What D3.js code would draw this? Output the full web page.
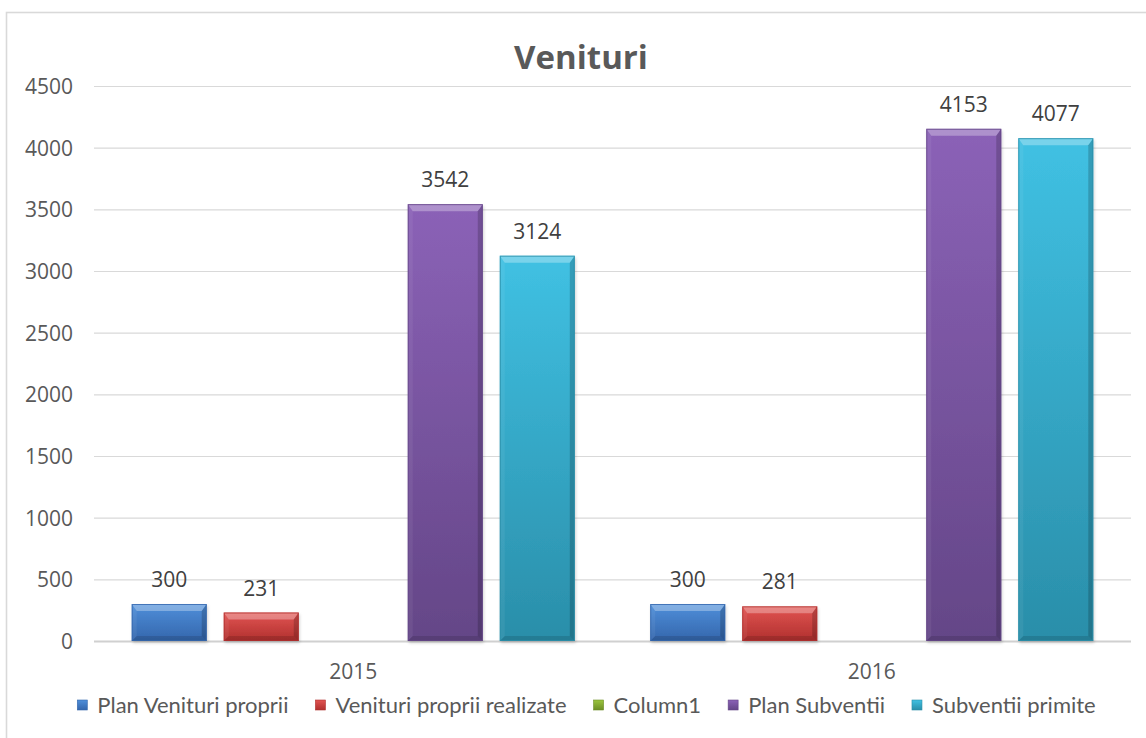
<!DOCTYPE html>
<html>
<head>
<meta charset="utf-8">
<script src="https://cdn.jsdelivr.net/npm/d3@7"></script>
<style>
  html, body { margin: 0; padding: 0; background: #fff; }
  svg { display: block; }
</style>
</head>
<body>
<svg id="chart" width="1146" height="738"></svg>
<script>
// ---- data ----
const categories = ["2015", "2016"];
const seriesNames = ["Plan Venituri proprii", "Venituri proprii realizate", "Column1", "Plan Subventii", "Subventii primite"];
const planVenituriProprii = [300, 300];
const venituriPropriiRealizate = [231, 281];
const column1 = [null, null];
const planSubventii = [3542, 4153];
const subventiiPrimite = [3124, 4077];
const yTicks = [0, 500, 1000, 1500, 2000, 2500, 3000, 3500, 4000, 4500];
const title = "Venituri";

const seriesValues = [planVenituriProprii, venituriPropriiRealizate, column1, planSubventii, subventiiPrimite];
const seriesColors = [
  { top: "#4f8fda", bot: "#3466ac" },
  { top: "#e25452", bot: "#b0302e" },
  { top: "#9bc53d", bot: "#6d8e26" },
  { top: "#8b62b7", bot: "#644687" },
  { top: "#40c1e3", bot: "#2a8ea9" }
];

const svg = d3.select("#chart");
const plot = { left: 94, right: 1131, top: 86, bottom: 641 };

// chart border
svg.append("rect").attr("x", 6.5).attr("y", 12.5).attr("width", 1160).attr("height", 760)
  .attr("fill", "#fff").attr("stroke", "#d9d9d9").attr("stroke-width", 1.6);

const defs = svg.append("defs");
seriesColors.forEach((c, i) => {
  const g = defs.append("linearGradient").attr("id", "g" + i)
    .attr("x1", 0).attr("y1", 0).attr("x2", 0).attr("y2", 1);
  g.append("stop").attr("offset", "0%").attr("stop-color", c.top);
  g.append("stop").attr("offset", "100%").attr("stop-color", c.bot);
});
const f = defs.append("filter").attr("id", "shadow").attr("x", "-10%").attr("y", "-10%").attr("width", "130%").attr("height", "130%");
f.append("feDropShadow").attr("dx", 1).attr("dy", 2).attr("stdDeviation", 1.5)
  .attr("flood-color", "#000").attr("flood-opacity", 0.18);

// scales
const y = d3.scaleLinear().domain([0, 4500]).range([plot.bottom, plot.top]);
const x0 = d3.scaleBand().domain(categories).range([plot.left, plot.right]).paddingInner(0).paddingOuter(0);
const x1 = d3.scaleBand().domain(seriesNames).range([0, x0.bandwidth()]).paddingInner(0.185).paddingOuter(0.41);

// gridlines
const grid = d3.axisLeft(y).tickValues(yTicks).tickSize(-(plot.right - plot.left)).tickFormat("");
const gg = svg.append("g").attr("transform", `translate(${plot.left},0)`).call(grid);
gg.select(".domain").remove();
gg.selectAll("line").attr("stroke", "#d9d9d9").attr("stroke-width", 1.2);
gg.selectAll(".tick").filter(d => d === 0).select("line").attr("stroke", "#d0d0d0").attr("stroke-width", 2);

// y tick labels
const ya = d3.axisLeft(y).tickValues(yTicks).tickSize(0).tickPadding(0).tickFormat(d3.format("d"));
const yg = svg.append("g").attr("transform", `translate(73,0)`).call(ya);
yg.select(".domain").remove();
yg.selectAll("text").attr("fill", "#595959").attr("font-family", "'Open Sans', sans-serif")
  .attr("font-size", 21).attr("dy", "0.36em");

// x axis labels
const xa = d3.axisBottom(x0).tickSize(0).tickPadding(0);
const xg = svg.append("g").attr("transform", `translate(0,679)`).call(xa);
xg.select(".domain").remove();
xg.selectAll("text").attr("fill", "#595959").attr("font-family", "'Open Sans', sans-serif")
  .attr("font-size", 21).attr("dy", 0);

// bars
const bars = [];
categories.forEach((cat, ci) => {
  seriesNames.forEach((s, si) => {
    const v = seriesValues[si][ci];
    if (v == null) return;
    bars.push({ cat, s, si, v });
  });
});

const bg = svg.append("g");
bars.forEach(b => {
  const bx = x0(b.cat) + x1(b.s);
  const bw = x1.bandwidth();
  const by = y(b.v);
  const bh = y(0) - y(b.v);
  const g = bg.append("g");
  g.append("rect").attr("x", bx).attr("y", by).attr("width", bw).attr("height", bh)
    .attr("fill", `url(#g${b.si})`).attr("filter", "url(#shadow)");
  const t = 7, sd = 5;
  g.append("polygon").attr("points", [[bx, by], [bx + bw, by], [bx + bw - sd, by + t], [bx + sd, by + t]].map(p => p.join(",")).join(" "))
    .attr("fill", "#fff").attr("opacity", 0.3);
  g.append("polygon").attr("points", [[bx, by + bh], [bx + bw, by + bh], [bx + bw - sd, by + bh - sd], [bx + sd, by + bh - sd]].map(p => p.join(",")).join(" "))
    .attr("fill", "#000").attr("opacity", 0.12);
  g.append("polygon").attr("points", [[bx, by], [bx + sd, by + t], [bx + sd, by + bh - sd], [bx, by + bh]].map(p => p.join(",")).join(" "))
    .attr("fill", "#fff").attr("opacity", 0.06);
  g.append("polygon").attr("points", [[bx + bw, by], [bx + bw - sd, by + t], [bx + bw - sd, by + bh - sd], [bx + bw, by + bh]].map(p => p.join(",")).join(" "))
    .attr("fill", "#000").attr("opacity", 0.18);
  g.append("rect").attr("x", bx + 0.5).attr("y", by + 0.5).attr("width", bw - 1).attr("height", bh - 1)
    .attr("fill", "none").attr("stroke", seriesColors[b.si].bot).attr("stroke-width", 1).attr("opacity", 0.8);
  svg.append("text").attr("x", bx + bw / 2).attr("y", by - 17)
    .attr("text-anchor", "middle").attr("fill", "#404040")
    .attr("font-family", "'Open Sans', sans-serif").attr("font-size", 21)
    .text(b.v);
});

// title
svg.append("text").attr("x", 581).attr("y", 69).attr("text-anchor", "middle")
  .attr("fill", "#595959").attr("font-family", "'Open Sans', sans-serif")
  .attr("font-weight", "bold").attr("font-size", 33).text(title);

// legend
const lg = svg.append("g");
let cx = 0;
seriesNames.forEach((s, i) => {
  const it = lg.append("g").attr("transform", `translate(${cx},0)`);
  it.append("rect").attr("x", 0).attr("y", -13).attr("width", 10).attr("height", 10)
    .attr("fill", `url(#g${i})`).attr("stroke", seriesColors[i].bot).attr("stroke-width", 0.6);
  const tx = it.append("text").attr("x", 20).attr("y", 0).attr("fill", "#595959")
    .attr("font-family", "Lato, sans-serif").attr("font-size", 22).text(s);
  const w = tx.node().getComputedTextLength();
  cx += 20 + w + 27;
});
const totalW = cx - 27;
lg.attr("transform", `translate(${586.5 - totalW / 2},713)`);
</script>
</body>
</html>
